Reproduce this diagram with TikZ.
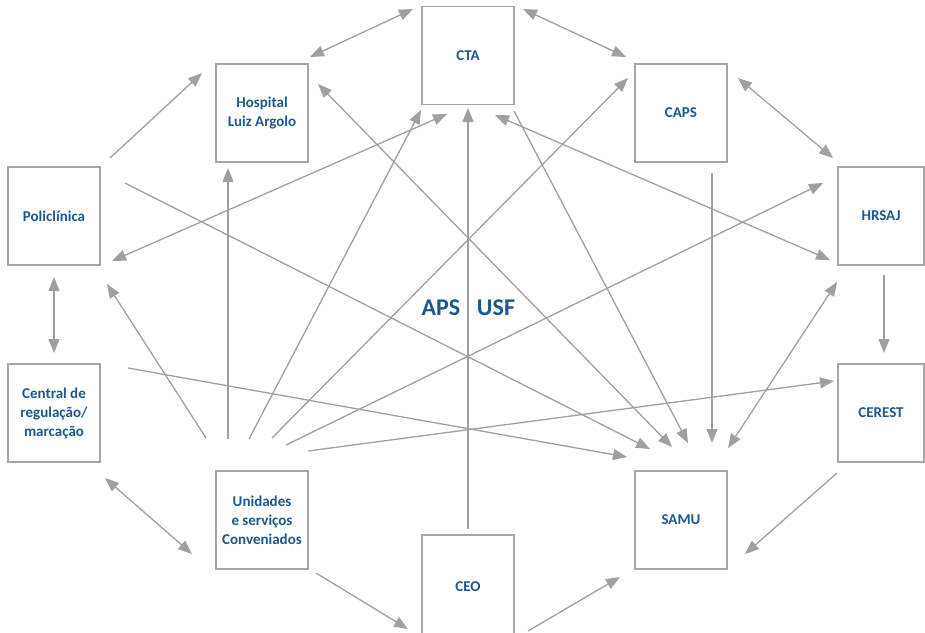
\documentclass[tikz,border=0pt]{standalone}
\usepackage{fontspec}
\setmainfont{Carlito}
\usetikzlibrary{arrows.meta}
\definecolor{linegray}{RGB}{160,160,160}
\definecolor{boxgray}{RGB}{166,166,166}
\definecolor{labelblue}{RGB}{28,88,140}

\begin{document}
\begin{tikzpicture}[x=1pt,y=-1pt,
  >={Triangle[length=14pt,width=11pt]},
  box/.style={draw=boxgray, line width=1.4pt, minimum width=92pt, minimum height=98pt,
    inner sep=0pt, align=center, text=labelblue,
    font=\fontsize{15}{19}\selectfont\bfseries},
  narrowbox/.style={box, minimum width=86pt},
  link/.style={draw=linegray, line width=1.3pt, ->},
  both/.style={draw=linegray, line width=1.3pt, <->},
  biglabel/.style={text=labelblue, font=\fontsize{24}{28}\selectfont\bfseries, inner sep=0pt}]

\useasboundingbox (0,0) rectangle (925,632);

% services
\node[box] (cta)  at (468,55.5) {CTA};
\node[box] (hosp) at (262,113) {Hospital\\Luiz Argolo};
\node[box] (caps) at (681,113) {CAPS};
\node[box] (poli) at (54,216) {Policlínica};
\node[narrowbox] (hrsaj) at (881,216) {HRSAJ};
\node[box] (cent) at (54,413) {Central de\\regulação/\\marcação};
\node[narrowbox] (cerest) at (881,413) {CEREST};
\node[box] (unid) at (262,520) {Unidades\\e serviços\\Conveniados};
\node[box] (samu) at (681,520) {SAMU};
\node[box, minimum height=104pt] (ceo) at (468,587) {CEO};

\node[biglabel] (aps) at (441,308) {APS};
\node[biglabel] (usf) at (496,308) {USF};

% connector end points
\coordinate (hc1) at (310,57);   \coordinate (hc2) at (413,9);
\coordinate (cc1) at (523,9);    \coordinate (cc2) at (626,57);
\coordinate (ch1) at (738,78);   \coordinate (ch2) at (833,158);
\coordinate (ph1) at (110,158);  \coordinate (ph2) at (202,73);
\coordinate (pc1) at (54,277);   \coordinate (pc2) at (54,353);
\coordinate (cu1) at (105,478);  \coordinate (cu2) at (192,554);
\coordinate (ue1) at (316,573);  \coordinate (ue2) at (408,629);
\coordinate (es1) at (528,631);  \coordinate (es2) at (620,577);
\coordinate (rs1) at (837,473);  \coordinate (rs2) at (745,554);
\coordinate (hr1) at (884,275);  \coordinate (hr2) at (884,353);
\coordinate (as1) at (712,173);  \coordinate (as2) at (712,443);
\coordinate (et1) at (468,529);  \coordinate (et2) at (468,108);
\coordinate (ps1) at (125,183);  \coordinate (ps2) at (650,449);
\coordinate (ns1) at (128,368);  \coordinate (ns2) at (627,457);
\coordinate (hs1) at (318,84);   \coordinate (hs2) at (672,447);
\coordinate (ts1) at (514,111);  \coordinate (ts2) at (688,443);
\coordinate (tj1) at (495,115);  \coordinate (tj2) at (830,260);
\coordinate (pt1) at (112,261);  \coordinate (pt2) at (447,114);
\coordinate (up1) at (206,438);  \coordinate (up2) at (107,284);
\coordinate (uh1) at (228,439);  \coordinate (uh2) at (228,168);
\coordinate (ut1) at (249,439);  \coordinate (ut2) at (421,110);
\coordinate (uc1) at (272,438);  \coordinate (uc2) at (628,78);
\coordinate (uj1) at (286,445);  \coordinate (uj2) at (823,183);
\coordinate (ur1) at (308,451);  \coordinate (ur2) at (834,381);
\coordinate (js1) at (837,282);  \coordinate (js2) at (728,448);

% outer ring
\draw[both] (hc1) -- (hc2);
\draw[both] (cc1) -- (cc2);
\draw[both] (ch1) -- (ch2);
\draw[link] (ph1) -- (ph2);
\draw[both] (pc1) -- (pc2);
\draw[both] (cu1) -- (cu2);
\draw[link] (ue1) -- (ue2);
\draw[link] (es1) -- (es2);
\draw[link] (rs1) -- (rs2);
\draw[link] (hr1) -- (hr2);

% links crossing the middle
\draw[link] (as1) -- (as2);
\draw[link] (et1) -- (et2);
\draw[link] (ps1) -- (ps2);
\draw[link] (ns1) -- (ns2);
\draw[both] (hs1) -- (hs2);
\draw[link] (ts1) -- (ts2);
\draw[both] (tj1) -- (tj2);
\draw[both] (pt1) -- (pt2);
\draw[both] (js1) -- (js2);

% from Unidades e serviços Conveniados
\draw[link] (up1) -- (up2);
\draw[link] (uh1) -- (uh2);
\draw[link] (ut1) -- (ut2);
\draw[link] (uc1) -- (uc2);
\draw[link] (uj1) -- (uj2);
\draw[link] (ur1) -- (ur2);
\end{tikzpicture}
\end{document}
